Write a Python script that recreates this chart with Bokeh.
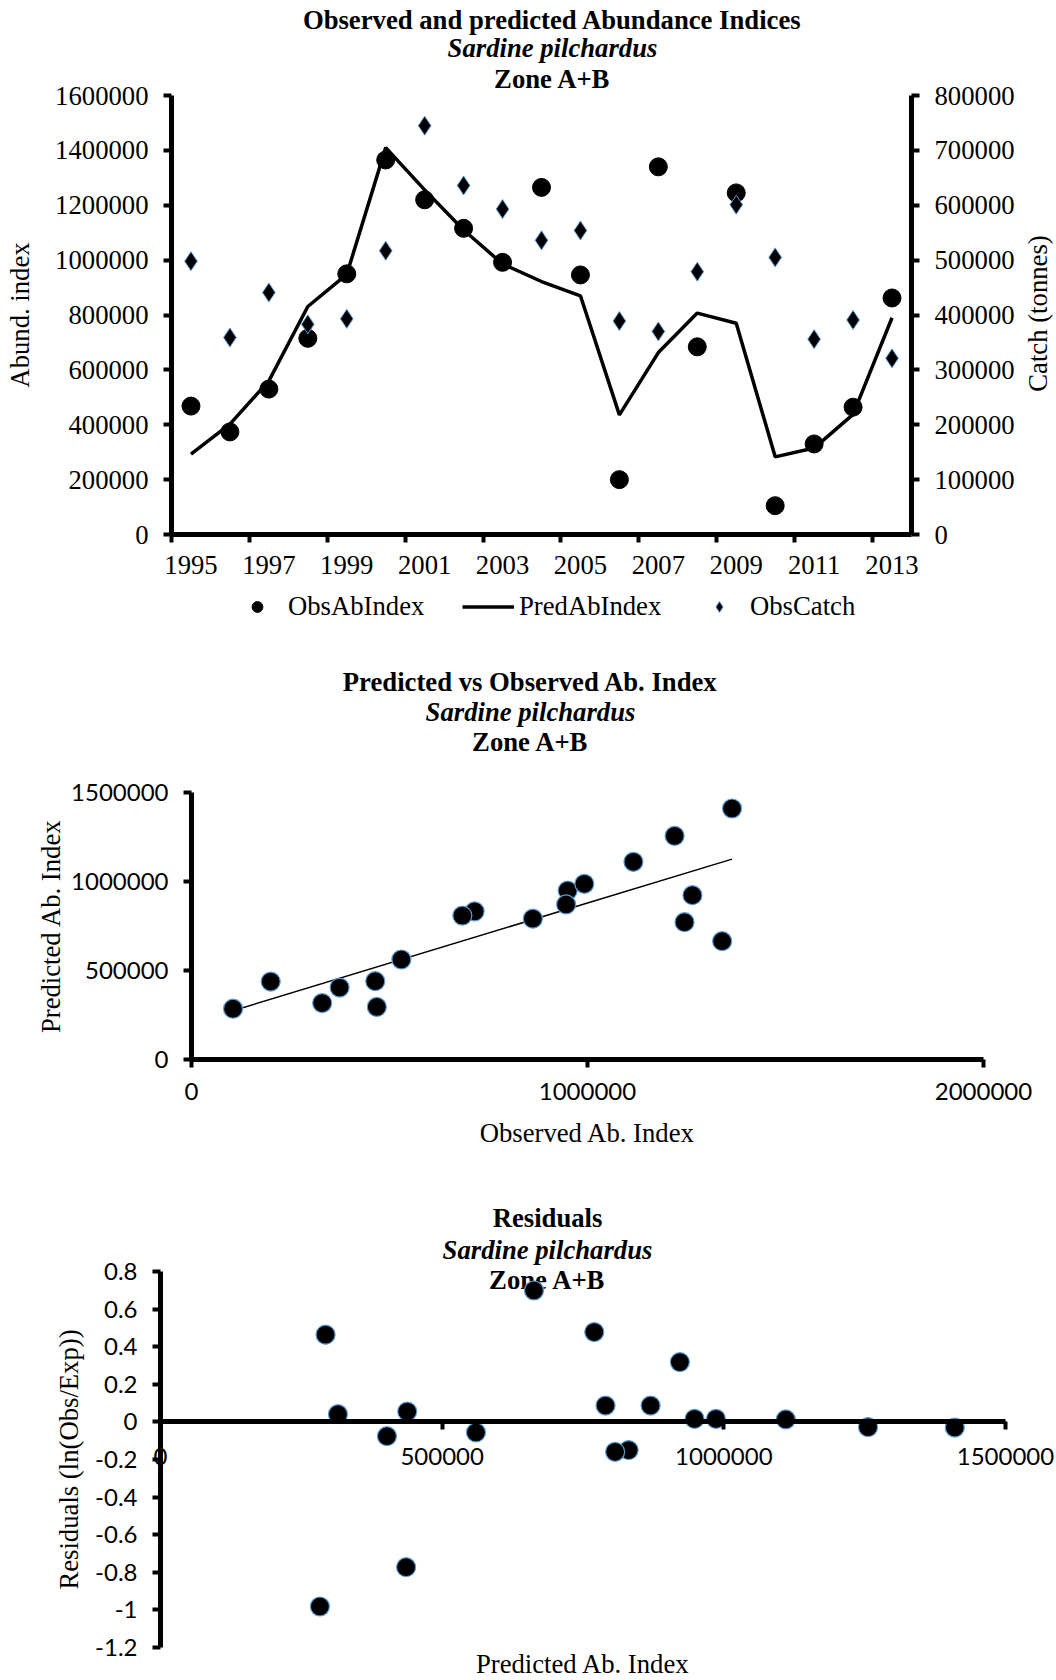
import math
import numpy as np
from bokeh.plotting import figure
from bokeh.models import (Range1d, LinearAxis, FixedTicker, Legend, LegendItem,
                          Label, NumeralTickFormatter)
from bokeh.layouts import column
from bokeh.embed import file_html
from bokeh.resources import INLINE

# ---- data -------------------------------------------------------------
years = list(range(1995, 2014))
obs_ab_index = [468000, 374000, 530000, 715000, 950000, 1365000, 1220000, 1116000,
                992000, 1265000, 946000, 200000, 1340000, 684000, 1245000, 105000,
                330000, 464000, 862000]
pred_ab_index = [293000, 402000, 560000, 831000, 948000, 1410000, 1256000, 1110000,
                 986000, 922000, 870000, 436000, 663000, 807000, 770000, 283000,
                 315000, 438000, 790000]
obs_catch = [498000, 359000, 441000, 383000, 393000, 517000, 745000, 636000,
             593000, 536000, 554000, 389000, 370000, 479000, 601000, 505000,
             356000, 391000, 321000]
residuals = [0.464, -0.076, -0.056, -0.150, 0.016, -0.030, -0.028, 0.013,
             0.016, 0.318, 0.087, -0.773, 0.699, -0.159, 0.478, -0.982,
             0.041, 0.055, 0.087]

abund_ticks = list(range(0, 1600001, 200000))
catch_ticks = list(range(0, 800001, 100000))
scatter_x_ticks = [0, 1000000, 2000000]
scatter_y_ticks = [0, 500000, 1000000, 1500000]
resid_x_ticks = [0, 500000, 1000000, 1500000]
resid_y_ticks = [0.8, 0.6, 0.4, 0.2, 0, -0.2, -0.4, -0.6, -0.8, -1, -1.2]

SERIF = "Liberation Serif"
SANS = "Lato"
FS = "26.7px"
SANS_FS = "24px"
EDGE = "#5b9bd5"
W = 1056


def pixel_range(v0, v1, p0, p1, total):
    """Range over a 0..total pixel canvas that puts v0 at pixel p0 and v1 at p1."""
    k = (v1 - v0) / (p1 - p0)
    return Range1d(v0 - p0 * k, v0 + (total - p0) * k)


def style_axis(ax, font=SERIF, size=FS):
    ax.axis_line_width = 5
    ax.axis_line_color = "black"
    ax.major_tick_line_width = 4
    ax.major_tick_line_color = "black"
    ax.major_tick_out = 8
    ax.major_tick_in = 0
    ax.minor_tick_line_color = None
    ax.major_label_text_font = font
    ax.major_label_text_font_size = size
    ax.major_label_text_color = "black"
    ax.major_label_standoff = 15
    ax.axis_label_text_font = SERIF
    ax.axis_label_text_font_size = FS
    ax.axis_label_text_font_style = "normal"
    ax.axis_label_text_color = "black"


def text_label(p, text, x, y, style="normal", angle=0.0, level="annotation"):
    p.add_layout(Label(x=x, y=y, x_units="screen", y_units="screen", text=text,
                       angle=angle, text_align="center", text_baseline="middle",
                       text_font=SERIF, text_font_size=FS, text_font_style=style,
                       text_color="black", level=level))


def add_title(p, lines, x, ys, level="annotation"):
    styles = ["bold", "bold italic", "bold"]
    for text, y, st in zip(lines, ys, styles):
        text_label(p, text, x, y, style=st, level=level)


def base_fig(height, xr, yr):
    p = figure(width=W, height=height, x_range=xr, y_range=yr,
               output_backend="svg", toolbar_location=None, title=None,
               min_border_left=0, min_border_right=0,
               min_border_top=0, min_border_bottom=0)
    p.outline_line_color = None
    p.grid.visible = False
    p.background_fill_color = "white"
    p.border_fill_color = "white"
    return p


# ---- 1: observed / predicted abundance with catch ---------------------
H1 = 638
p1 = base_fig(H1, pixel_range(1994.5, 2013.5, 171, 911, W),
              pixel_range(0, 1600000, H1 - 534, H1 - 95, H1))
p1.extra_y_ranges = {"catch": pixel_range(0, 800000, H1 - 534, H1 - 95, H1)}

xa = p1.xaxis[0]
style_axis(xa)
xa.fixed_location = 0
xa.bounds = (1994.5, 2013.5)
xa.ticker = FixedTicker(ticks=years[::2], minor_ticks=[y - 0.5 for y in years[::2]])
xa.major_tick_out = 0
xa.minor_tick_out = 8
xa.minor_tick_in = 0
xa.minor_tick_line_color = "black"
xa.minor_tick_line_width = 4
xa.major_label_standoff = 13

ya = p1.yaxis[0]
style_axis(ya)
ya.fixed_location = 1994.5
ya.bounds = (0, 1600000)
ya.ticker = FixedTicker(ticks=abund_ticks)
ya.formatter = NumeralTickFormatter(format="0")
ya.axis_label = "Abund. index"
ya.axis_label_standoff = 17

ra = LinearAxis(y_range_name="catch")
style_axis(ra)
ra.fixed_location = 2013.5
ra.bounds = (0, 800000)
ra.ticker = FixedTicker(ticks=catch_ticks)
ra.formatter = NumeralTickFormatter(format="0")
p1.add_layout(ra, "right")
text_label(p1, "Catch (tonnes)", 1037, H1 - 313, angle=math.pi / 2)

r_pred = p1.line(years, pred_ab_index, line_color="black", line_width=3.5)
r_obs = p1.scatter(years, obs_ab_index, marker="circle", size=18,
                   fill_color="black", line_color="black")
r_catch = p1.scatter(years, obs_catch, marker="diamond", size=19,
                     fill_color="black", line_color=EDGE, line_width=1,
                     y_range_name="catch")

legend = Legend(items=[LegendItem(label="ObsAbIndex", renderers=[r_obs]),
                       LegendItem(label="PredAbIndex", renderers=[r_pred]),
                       LegendItem(label="ObsCatch", renderers=[r_catch])],
                orientation="horizontal", location=(231, H1 - 622),
                glyph_width=52, glyph_height=27, label_height=27,
                label_standoff=5, label_width=174, spacing=0,
                padding=0, margin=0,
                border_line_color=None, background_fill_alpha=0,
                label_text_font=SERIF, label_text_font_size=FS,
                label_text_color="black")
p1.add_layout(legend)

add_title(p1, ["Observed and predicted Abundance Indices", "Sardine pilchardus", "Zone A+B"],
          552, [H1 - 19, H1 - 47, H1 - 78])

# ---- 2: predicted vs observed ----------------------------------------
H2 = 510
p2 = base_fig(H2, pixel_range(0, 2000000, 191, 983, W),
              pixel_range(0, 1500000, H2 - 420.5, H2 - 154, H2))
xa2 = p2.xaxis[0]
style_axis(xa2, SANS, SANS_FS)
xa2.fixed_location = 0
xa2.bounds = (0, 2000000)
xa2.ticker = FixedTicker(ticks=scatter_x_ticks)
xa2.formatter = NumeralTickFormatter(format="0")
xa2.axis_label = "Observed Ab. Index"
xa2.major_label_standoff = 16
xa2.axis_label_standoff = 14
ya2 = p2.yaxis[0]
style_axis(ya2, SANS, SANS_FS)
ya2.fixed_location = 0
ya2.bounds = (0, 1500000)
ya2.ticker = FixedTicker(ticks=scatter_y_ticks)
ya2.formatter = NumeralTickFormatter(format="0")
ya2.axis_label = "Predicted Ab. Index"
ya2.axis_label_standoff = 2

slope, intercept = np.polyfit(obs_ab_index, pred_ab_index, 1)
trend_x = [min(obs_ab_index), max(obs_ab_index)]
trend_y = [slope * v + intercept for v in trend_x]
p2.line(trend_x, trend_y, line_color="black", line_width=1.5)
p2.scatter(obs_ab_index, pred_ab_index, marker="circle", size=19,
           fill_color="black", line_color=EDGE, line_width=1.2)

add_title(p2, ["Predicted vs Observed Ab. Index", "Sardine pilchardus", "Zone A+B"],
          530, [H2 - 43, H2 - 73, H2 - 103])

# ---- 3: residuals ----------------------------------------------------
H3 = 532
p3 = base_fig(H3, pixel_range(0, 1500000, 160, 1005, W),
              pixel_range(-1.2, 0.8, H3 - 499, H3 - 123, H3))
xa3 = p3.xaxis[0]
style_axis(xa3, SANS, SANS_FS)
xa3.fixed_location = 0
xa3.bounds = (0, 1500000)
xa3.ticker = FixedTicker(ticks=resid_x_ticks)
xa3.formatter = NumeralTickFormatter(format="0")
xa3.major_label_standoff = 18
ya3 = p3.yaxis[0]
style_axis(ya3, SANS, SANS_FS)
ya3.fixed_location = 0
ya3.bounds = (-1.2, 0.8)
ya3.ticker = FixedTicker(ticks=resid_y_ticks)
ya3.formatter = NumeralTickFormatter(format="0.[0]")
ya3.axis_label = "Residuals (ln(Obs/Exp))"
ya3.axis_label_standoff = 8

add_title(p3, ["Residuals", "Sardine pilchardus", "Zone A+B"],
          547, [H3 - 69, H3 - 101, H3 - 131], level="underlay")
text_label(p3, "Predicted Ab. Index", 582.5, H3 - 515)

p3.scatter(pred_ab_index, residuals, marker="circle", size=19,
           fill_color="black", line_color=EDGE, line_width=1.2)

page = column(p1, p2, p3)
open("out.html", "w").write(file_html(page, INLINE))
